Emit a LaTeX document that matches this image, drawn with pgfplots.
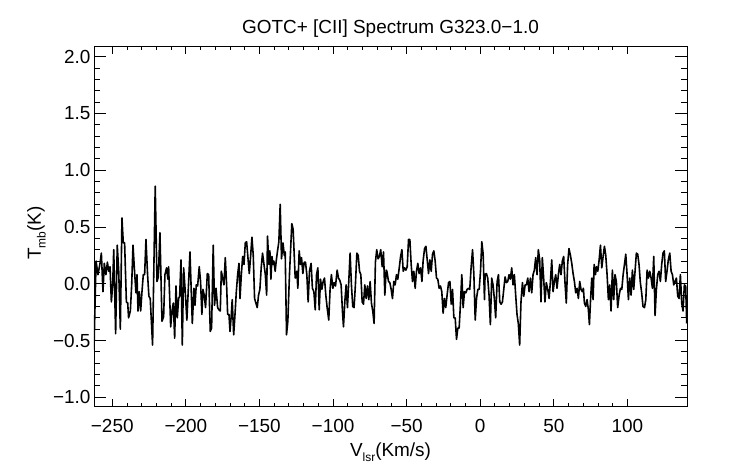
\documentclass[border=0pt]{standalone}
\usepackage{pgfplots}
\pgfplotsset{compat=1.18}
\usepackage{fontspec}
\setmainfont{Liberation Sans}
\usetikzlibrary{calc}
\newcommand{\fs}{\fontsize{19}{21}\selectfont}
\newcommand{\sub}[1]{\raisebox{-0.25em}{\fontsize{12}{13}\selectfont #1}}
\begin{document}
\begin{tikzpicture}
\pgfplotsset{
  common/.style={
    name=#1, at={(0,0)}, anchor=south west,
    scale only axis, width=593bp, height=360bp,
    xmin=-262.4, xmax=140.5, ymin=-1.083, ymax=2.088,
    axis line style={line width=0.9bp, black},
    tick style={line width=0.9bp, black},
    tick align=inside,
    tick label style={font=\fs},
    label style={font=\fs},
    title style={font=\fs},
  }
}
\begin{axis}[common=ax,
  xtick={-250,-200,-150,-100,-50,0,50,100},
  xticklabels={−250,−200,−150,−100,−50,0,50,100},
  minor x tick num=4,
  xtick pos=both, xticklabel pos=lower,
  major tick length=7.2bp, minor tick length=3.6bp,
  ytick=\empty,
  xticklabel style={yshift=-9bp},
  title={GOTC+ [CII] Spectrum G323.0−1.0},
  title style={at={(axis description cs:0.5,1.019)}, anchor=base},
  xlabel={V\sub{lsr}(Km/s)},
  xlabel style={at={(axis description cs:0.5,-0.1395)}, anchor=base},
  ylabel={T\sub{mb}(K)},
  ylabel style={at={(axis description cs:-0.0894,0.482)}, anchor=base, rotate=0},
]
\addplot[black, line width=1.6bp, sharp plot, line join=round] table {
-262.4 -0.58
-261.0 0.20
-259.7 0.08
-258.3 0.18
-257.4 0.27
-256.3 -0.07
-255.4 0.18
-254.3 0.08
-253.3 0.19
-252.4 0.11
-251.5 0.15
-250.6 -0.16
-249.7 -0.01
-249.0 0.30
-247.7 -0.44
-246.6 0.34
-245.6 0.11
-244.5 -0.40
-243.4 0.58
-242.5 0.36
-241.6 0.36
-240.4 -0.16
-239.5 -0.17
-238.9 -0.30
-237.7 -0.24
-236.8 -0.01
-235.9 0.34
-235.0 0.14
-233.9 -0.08
-233.2 0.08
-232.5 -0.24
-231.6 -0.07
-230.7 -0.24
-229.8 -0.07
-228.9 0.08
-228.0 0.08
-227.1 0.39
-226.0 0.08
-225.1 -0.11
-224.2 -0.13
-222.6 -0.54
-220.8 0.86
-219.6 0.02
-218.7 0.06
-217.6 0.45
-216.2 -0.33
-215.1 -0.29
-214.2 0.08
-213.1 0.14
-212.2 0.04
-211.7 0.15
-210.3 -0.38
-209.4 -0.24
-208.5 -0.17
-207.6 -0.48
-206.7 -0.02
-205.8 -0.30
-204.9 -0.13
-204.2 -0.11
-203.3 0.21
-202.4 -0.54
-201.5 0.14
-200.4 -0.07
-199.3 -0.32
-198.3 -0.04
-197.2 0.28
-195.6 -0.35
-194.5 -0.04
-193.8 -0.19
-192.9 -0.01
-192.0 -0.02
-190.9 0.15
-190.0 0.02
-189.1 -0.27
-188.4 -0.05
-187.5 -0.10
-186.6 -0.21
-185.4 0.09
-184.5 0.08
-183.4 -0.42
-182.5 -0.39
-181.4 0.34
-180.5 -0.19
-179.5 -0.04
-178.4 -0.21
-177.5 -0.23
-176.6 -0.24
-175.9 0.11
-175.0 0.05
-174.1 -0.01
-173.2 0.23
-172.3 -0.01
-171.6 -0.27
-170.7 -0.27
-170.0 -0.42
-169.1 -0.27
-168.5 -0.14
-167.5 -0.45
-166.6 -0.27
-165.7 -0.07
-164.8 0.08
-163.9 0.18
-163.2 -0.13
-162.3 0.08
-161.4 0.24
-160.5 0.17
-159.6 0.36
-158.7 0.37
-157.8 0.23
-156.9 0.09
-156.0 0.24
-155.1 0.41
-154.2 0.25
-153.3 -0.13
-152.4 -0.17
-151.5 -0.21
-150.6 -0.10
-149.7 -0.05
-148.8 0.14
-147.9 0.27
-146.9 0.17
-146.0 0.08
-145.1 -0.10
-144.5 0.42
-143.6 0.17
-142.9 0.29
-142.2 0.04
-141.5 0.24
-140.8 0.17
-140.2 0.20
-139.3 0.11
-138.6 0.20
-137.7 0.29
-136.8 0.37
-135.9 0.70
-135.0 0.22
-134.0 0.36
-133.1 0.25
-132.5 0.28
-131.6 -0.45
-130.7 -0.33
-129.6 0.08
-128.0 0.53
-127.1 0.48
-125.7 0.05
-124.6 0.11
-123.9 -0.04
-123.0 0.29
-122.1 0.17
-121.4 0.23
-120.5 0.09
-119.6 0.19
-118.7 0.19
-117.8 0.08
-116.9 -0.16
-116.0 0.11
-114.9 0.18
-114.0 -0.04
-113.0 -0.07
-112.1 -0.23
-111.2 0.08
-110.3 0.14
-109.4 -0.23
-108.5 0.04
-107.6 -0.05
-106.7 0.02
-105.8 0.05
-104.9 -0.10
-104.0 -0.21
-102.9 -0.32
-102.0 -0.05
-101.1 0.08
-100.1 -0.04
-99.2 0.01
-98.3 -0.02
-97.2 0.12
-96.3 0.05
-95.4 0.03
-94.5 -0.01
-93.6 -0.24
-92.9 -0.38
-92.0 -0.16
-91.1 -0.01
-90.2 -0.21
-89.3 0.02
-88.4 0.27
-87.5 -0.01
-86.6 -0.20
-85.7 -0.21
-84.8 -0.01
-83.8 0.27
-82.9 0.25
-82.0 0.11
-81.1 0.08
-80.2 -0.16
-79.3 -0.18
-78.4 -0.01
-77.5 -0.13
-76.6 -0.02
-75.7 -0.14
-74.8 0.02
-73.9 -0.17
-73.0 -0.24
-72.1 -0.35
-71.2 0.19
-70.3 0.30
-69.4 0.22
-68.5 0.24
-67.6 0.30
-66.6 0.15
-65.7 0.28
-64.8 -0.10
-63.9 0.12
-63.4 0.11
-62.3 0.02
-61.4 0.01
-60.5 -0.05
-59.6 -0.13
-58.7 0.02
-57.8 -0.01
-56.9 0.08
-56.0 0.04
-55.0 0.14
-54.1 0.24
-53.2 0.30
-52.3 0.11
-51.4 0.14
-50.5 0.12
-49.6 0.15
-48.7 0.39
-47.8 0.39
-46.9 0.17
-46.0 0.02
-45.1 0.11
-44.2 -0.04
-43.3 0.11
-42.4 0.18
-41.5 0.09
-40.5 0.14
-39.6 0.02
-38.8 0.20
-37.8 0.31
-36.9 0.33
-36.0 0.21
-35.1 0.09
-34.2 0.21
-33.3 0.11
-32.4 0.26
-31.5 0.29
-30.6 0.20
-29.7 0.05
-28.8 0.04
-27.9 -0.04
-27.0 -0.02
-26.1 -0.07
-25.2 -0.26
-24.3 -0.13
-23.4 -0.21
-22.5 -0.10
-21.5 0.01
-20.6 0.02
-19.7 -0.18
-18.8 -0.05
-17.9 -0.30
-17.0 -0.30
-16.1 -0.49
-15.2 -0.39
-14.3 -0.39
-13.4 -0.17
-12.5 0.08
-11.6 -0.21
-10.7 -0.07
-9.8 -0.08
-8.9 -0.05
-8.0 -0.04
-7.1 -0.05
-6.2 0.14
-5.2 0.30
-4.3 0.08
-3.4 -0.32
-2.5 -0.13
-1.6 -0.05
-0.7 -0.05
0.2 0.11
1.1 0.37
2.0 0.26
2.9 -0.14
3.3 0.08
4.2 0.09
5.1 0.05
6.0 -0.10
6.9 -0.36
7.8 0.05
8.7 -0.01
9.6 -0.13
10.5 -0.30
11.5 0.02
12.4 0.08
13.3 -0.16
14.2 -0.18
15.1 -0.16
16.0 -0.05
16.9 0.06
17.8 0.01
18.7 0.02
19.6 0.08
20.5 0.04
21.4 0.14
22.3 -0.01
23.2 0.08
24.1 -0.10
25.0 -0.27
25.9 -0.35
26.8 -0.54
27.7 -0.16
28.7 0.01
29.6 -0.11
30.5 -0.01
31.4 -0.01
32.3 0.05
33.2 -0.07
34.1 0.05
35.0 -0.08
35.9 0.08
36.8 0.12
37.7 0.23
38.6 0.08
39.5 0.30
40.4 0.21
41.3 -0.16
42.2 0.23
43.1 0.05
44.0 -0.16
44.9 0.01
45.9 -0.05
46.8 -0.13
47.7 0.02
48.6 0.21
49.5 -0.07
50.4 0.02
51.3 0.08
52.2 -0.04
53.1 0.08
54.0 0.17
54.9 0.08
55.8 0.20
56.7 0.24
57.6 0.01
58.5 -0.17
59.4 0.17
60.3 0.31
61.3 0.25
62.2 0.18
63.1 0.09
64.0 0.02
64.9 -0.08
65.8 -0.04
66.7 -0.13
67.6 0.02
68.5 -0.05
69.4 -0.07
70.1 -0.04
70.8 -0.17
71.7 -0.20
72.6 -0.14
73.5 -0.23
74.2 -0.36
74.9 -0.16
75.8 0.05
76.7 -0.14
77.4 0.17
78.3 0.08
79.0 0.15
79.9 0.11
80.8 0.21
81.7 0.34
82.6 0.14
83.5 0.24
84.4 0.33
85.3 0.25
86.2 0.08
87.1 -0.14
88.0 -0.01
88.9 -0.24
89.8 0.12
90.7 -0.14
91.6 0.08
92.5 0.02
93.4 -0.21
94.4 -0.10
95.3 -0.04
96.2 -0.05
97.1 0.08
98.0 0.17
98.9 0.26
99.8 0.08
100.7 -0.14
101.6 0.05
102.5 -0.10
103.4 0.12
104.3 -0.05
105.2 0.11
106.1 0.27
107.0 0.26
107.9 0.17
108.8 0.01
109.7 -0.08
110.6 -0.20
111.6 -0.21
112.5 -0.14
113.4 0.12
114.3 0.05
115.2 0.11
116.1 0.05
117.0 -0.04
117.9 0.24
118.8 -0.28
119.7 -0.05
120.6 0.08
121.5 0.11
122.4 0.02
123.3 0.17
124.2 0.27
125.1 0.29
126.0 0.02
126.9 0.11
127.8 0.21
128.8 0.27
129.7 0.11
130.6 0.08
131.5 -0.01
132.4 0.02
133.3 0.05
134.2 -0.11
135.1 -0.13
136.0 0.08
136.9 -0.17
137.8 -0.24
138.7 -0.01
139.6 -0.02
140.3 -0.35
};
\end{axis}
\begin{axis}[common=ay,
  xtick=\empty,
  ytick={-1,-0.5,0,0.5,1,1.5,2},
  yticklabels={−1.0,−0.5,0.0,0.5,1.0,1.5,2.0},
  minor y tick num=4,
  ytick pos=both, yticklabel pos=left,
  major tick length=11.9bp, minor tick length=5.9bp,
]
\end{axis}
\pgfresetboundingbox
\path[use as bounding box] (ax.south west) ++(-94bp,-57.3bp) rectangle ++(742bp,464bp);
\end{tikzpicture}
\end{document}
